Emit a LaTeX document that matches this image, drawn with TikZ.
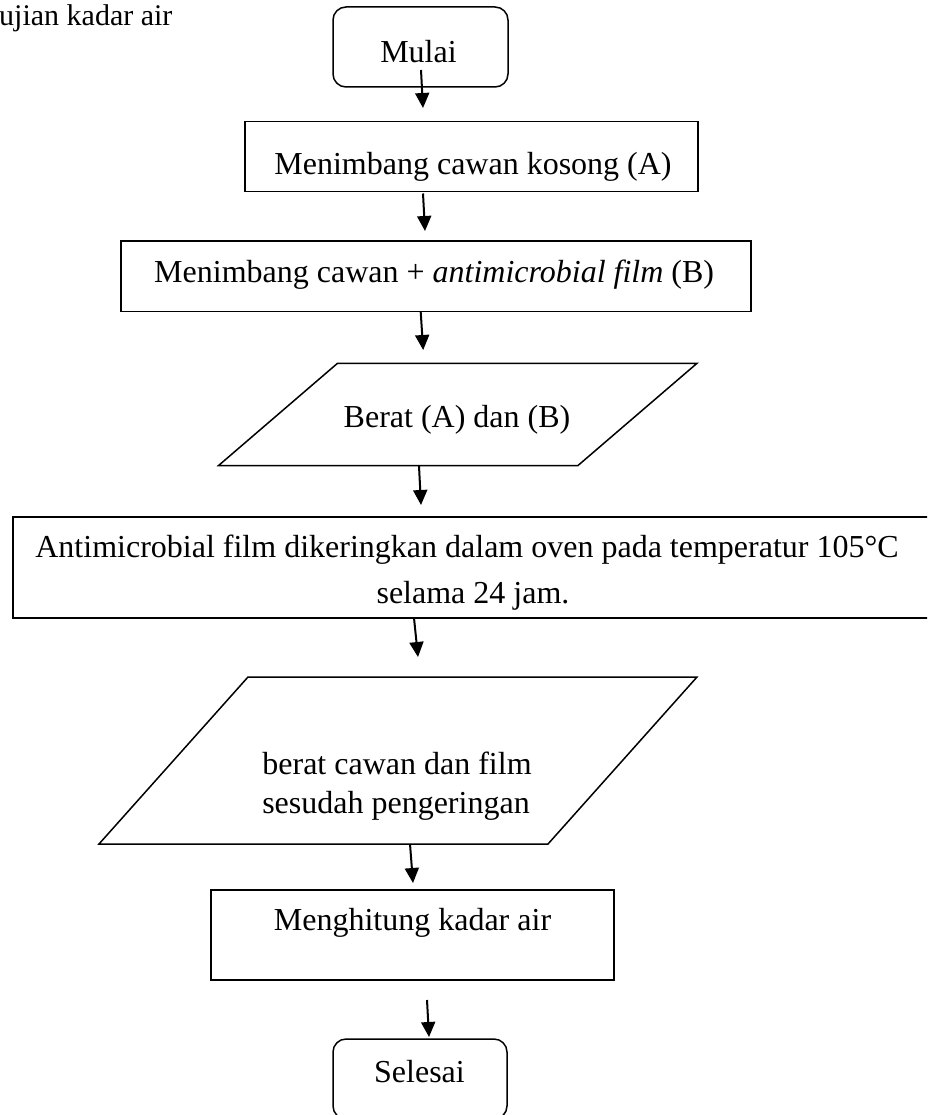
\documentclass[tikz,border=0pt]{standalone}
\usepackage{fontspec}
\setmainfont{Liberation Serif}
\usetikzlibrary{arrows.meta}
\tikzset{
  boxline/.style={draw=black, line width=1.5pt, inner sep=0pt, outer sep=0pt},
  startstop/.style={boxline, rounded corners=13pt},
  procbox/.style={boxline},
  txt/.style={anchor=base, inner sep=0pt, font=\fontsize{32}{40}\selectfont},
  headtxt/.style={anchor=base west, inner sep=0pt, font=\fontsize{30}{36}\selectfont},
  flowarrow/.style={-{Triangle[length=15pt,width=14pt]}, line width=2pt, draw=black},
}
\begin{document}
\begin{tikzpicture}[x=1pt,y=-1pt]
\useasboundingbox (0,0) rectangle (927,1115);
\clip (0,0) rectangle (927,1115);
\fill[white] (0,0) rectangle (927,1115);

% header text
\node[headtxt] (head) at (-1,26) {ujian kadar air};

% shapes
\node[startstop, minimum width=175pt, minimum height=80pt] (mulai) at (420.5,47) {};
\node[procbox, minimum width=453pt, minimum height=70pt] (b1) at (471.5,156.7) {};
\node[procbox, minimum width=630pt, minimum height=70.5pt] (b2) at (436,276.4) {};
\draw[boxline] (337.5,363.3) coordinate (p1tl) -- (697,363.3) coordinate (p1tr)
   -- (578,465.5) coordinate (p1br) -- (218.6,465.5) coordinate (p1bl) -- cycle;
\node[procbox, minimum width=927pt, minimum height=101pt] (b3) at (476.5,567.5) {};
\draw[boxline] (248,677) coordinate (p2tl) -- (697,677) coordinate (p2tr)
   -- (548,844) coordinate (p2br) -- (99,844) coordinate (p2bl) -- cycle;
\node[procbox, minimum width=403pt, minimum height=90pt] (b4) at (412.5,935) {};
\node[startstop, minimum width=174pt, minimum height=80pt] (selesai) at (420,1079) {};

% texts
\node[txt] (tmulai) at (418.5,63) {Mulai};
\node[txt] (tb1) at (473,175) {Menimbang cawan kosong (A)};
\node[txt, anchor=base west] (tb2) at (154,282) {Menimbang cawan + \textit{antimicrobial film} (B)};
\node[txt] (tp1) at (457,427) {Berat (A) dan (B)};
\node[txt] (tb3a) at (467,557) {Antimicrobial film dikeringkan dalam oven pada temperatur 105°C};
\node[txt] (tb3b) at (473,603) {selama 24 jam.};
\node[txt] (tp2a) at (397,774) {berat cawan dan film};
\node[txt] (tp2b) at (396,813.5) {sesudah pengeringan};
\node[txt] (tb4) at (412.5,930) {Menghitung kadar air};
\node[txt] (tsel) at (419.5,1082) {Selesai};

% arrow end points
\coordinate (a1s) at (421,70);   \coordinate (a1e) at (423,108);
\coordinate (a2s) at (423,193.5); \coordinate (a2e) at (425,231);
\coordinate (a3s) at (420.7,312); \coordinate (a3e) at (423.2,350);
\coordinate (a4s) at (419,466);  \coordinate (a4e) at (421,505);
\coordinate (a5s) at (414,618);  \coordinate (a5e) at (418,657);
\coordinate (a6s) at (410,844);  \coordinate (a6e) at (413,883);
\coordinate (a7s) at (427,1000); \coordinate (a7e) at (429,1037);

\draw[flowarrow] (a1s) -- (a1e);
\draw[flowarrow] (a2s) -- (a2e);
\draw[flowarrow] (a3s) -- (a3e);
\draw[flowarrow] (a4s) -- (a4e);
\draw[flowarrow] (a5s) -- (a5e);
\draw[flowarrow] (a6s) -- (a6e);
\draw[flowarrow] (a7s) -- (a7e);
\end{tikzpicture}
\end{document}
